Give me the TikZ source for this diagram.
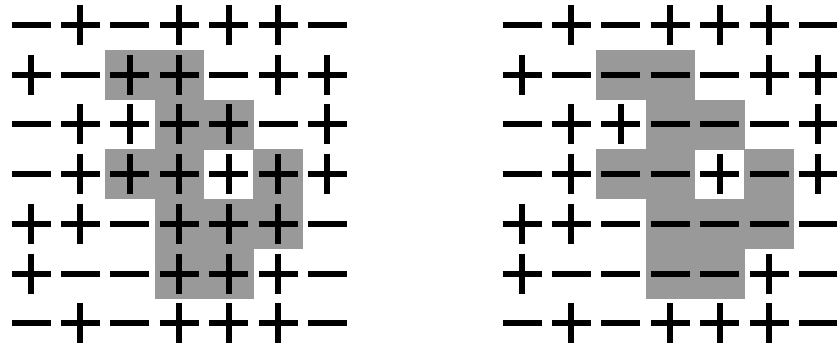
\documentclass[tikz,border=0pt]{standalone}
\usetikzlibrary{calc}
\definecolor{cellgrey}{HTML}{999999}

\tikzset{
  sign/.style={line width=0.06cm, black},
  cellfill/.style={fill=cellgrey}
}

\begin{document}
\begin{tikzpicture}[x=0.01cm, y=-0.01cm]
\useasboundingbox (0,0) rectangle (837,351);

% Shaded cluster (same cells in both grids)
\foreach \gx in {31,522}{
  \foreach \c/\r in {3/2,4/2,4/3,5/3,3/4,4/4,6/4,4/5,5/5,6/5,4/6,5/6}{
    \fill[cellfill] ({\gx+(\c-1)*49.4-24.7},{25+(\r-1)*49.7-24.85}) rectangle ++(49.9,50.2);
  }
}

% Left grid of signs
\foreach \row [count=\r] in {{m,p,m,p,p,p,m},{p,m,p,p,m,p,p},{m,p,p,p,p,m,p},{m,p,p,p,p,p,p},{p,p,m,p,p,p,m},{p,m,m,p,p,p,m},{m,p,m,p,p,p,m}}{
  \foreach \s [count=\c] in \row {
    \coordinate (l\r\c) at ({31+(\c-1)*49.4},{25+(\r-1)*49.7});
    \draw[sign] ($(l\r\c)+(-19.5,0)$) -- ($(l\r\c)+(19.5,0)$);
    \if\s p \draw[sign] ($(l\r\c)+(0,-20)$) -- ($(l\r\c)+(0,20)$); \fi
  }
}

% Right grid of signs (cluster flipped)
\foreach \row [count=\r] in {{m,p,m,p,p,p,m},{p,m,m,m,m,p,p},{m,p,p,m,m,m,p},{m,p,m,m,p,m,p},{p,p,m,m,m,m,m},{p,m,m,m,m,p,m},{m,p,m,p,p,p,m}}{
  \foreach \s [count=\c] in \row {
    \coordinate (r\r\c) at ({522+(\c-1)*49.4},{25+(\r-1)*49.7});
    \draw[sign] ($(r\r\c)+(-19.5,0)$) -- ($(r\r\c)+(19.5,0)$);
    \if\s p \draw[sign] ($(r\r\c)+(0,-20)$) -- ($(r\r\c)+(0,20)$); \fi
  }
}

\end{tikzpicture}
\end{document}
